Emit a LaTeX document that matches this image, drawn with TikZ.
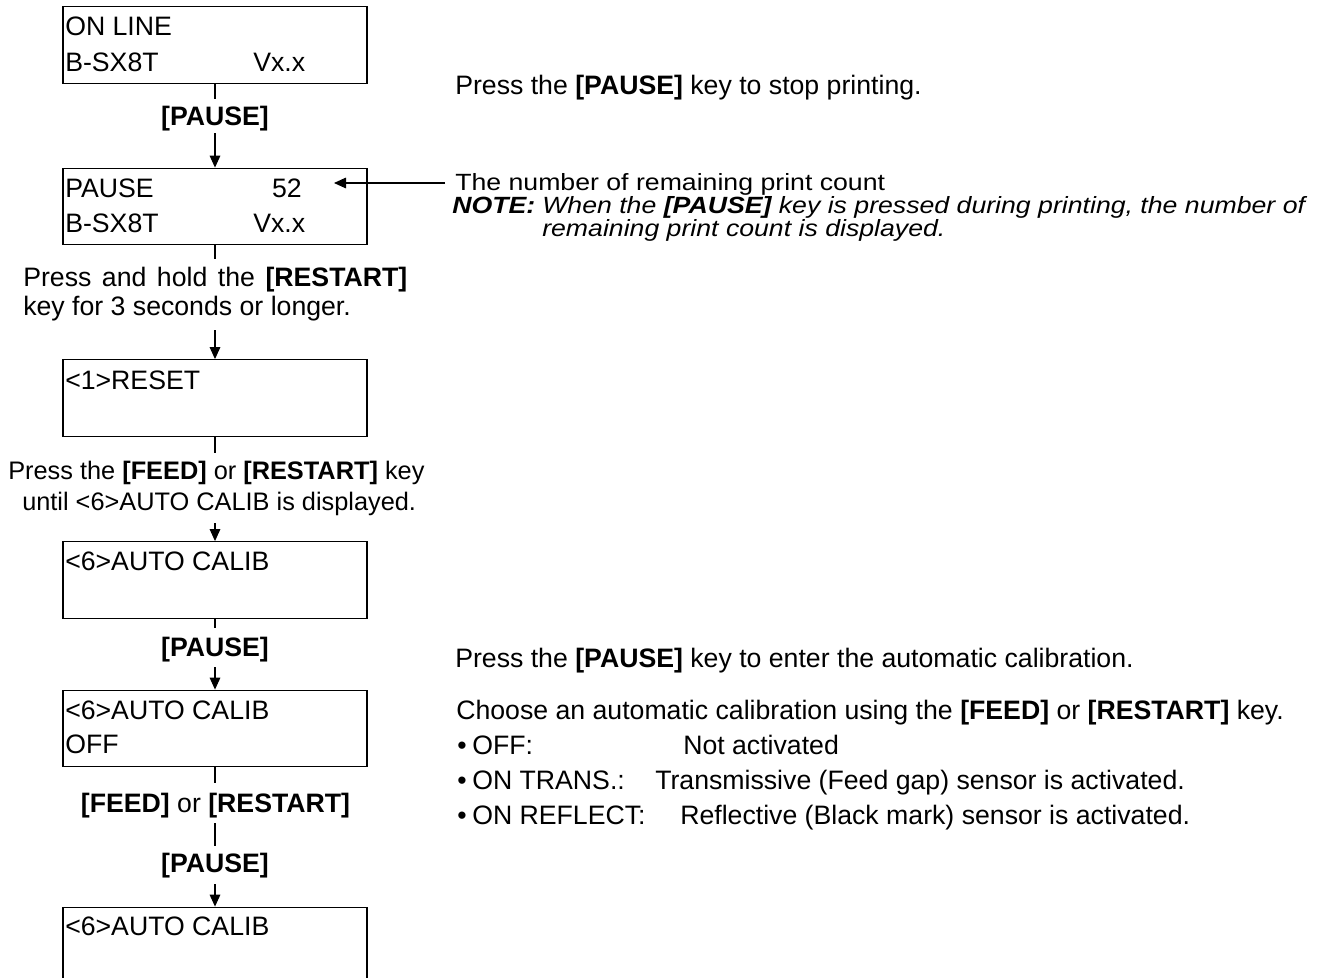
\documentclass[tikz,border=0pt]{standalone}
\usepackage{fontspec}
\setmainfont{Liberation Sans}
\usetikzlibrary{arrows.meta}
\newcommand{\squash}[1]{\scalebox{1}[0.88]{#1}}
\begin{document}
\begin{tikzpicture}[x=0.75pt,y=-0.75pt,
  box/.style={draw, line width=0.9pt, minimum width=228pt, minimum height=57.5pt, inner sep=0pt},
  txt/.style={anchor=base west, inner sep=0pt, font=\fontsize{20}{24}\selectfont},
  txtr/.style={anchor=base east, inner sep=0pt, font=\fontsize{20}{24}\selectfont},
  lbl/.style={anchor=base, inner sep=0pt, font=\fontsize{20}{24}\selectfont},
  small/.style={anchor=base west, inner sep=0pt, font=\fontsize{19}{23}\selectfont},
  conn/.style={line width=0.8pt},
  arr/.style={line width=0.8pt, -{Triangle[length=9pt,width=8pt]}}]
\clip (0,0) rectangle (1321,978);

% boxes
\node[box] (b1) at (215,45) {};
\node[box] (b2) at (215,206.5) {};
\node[box] (b3) at (215,398) {};
\node[box] (b4) at (215,580) {};
\node[box] (b5) at (215,728.5) {};
\node[box] (b6) at (215,945.5) {};

% box texts
\node[txt] (b1a) at (65,36) {ON LINE};
\node[txt] (b1b) at (65,71) {B-SX8T};
\node[txt] (b1c) at (253,71) {Vx.x};
\node[txt] (b2a) at (65,197) {PAUSE};
\node[txtr] (n52) at (302,197) {52};
\node[txt] (b2b) at (65,232) {B-SX8T};
\node[txt] (b2c) at (253,232) {Vx.x};
\node[txt] (b3a) at (65,389) {<1>RESET};
\node[txt] (b4a) at (65,570) {<6>AUTO CALIB};
\node[txt] (b5a) at (65,719) {<6>AUTO CALIB};
\node[txt] (b5b) at (65,753) {OFF};
\node[txt] (b6a) at (65,935) {<6>AUTO CALIB};

% labels between boxes
\node[lbl] (l1) at (215,125) {\textbf{[PAUSE]}};
\node[txt] (l2a) at (23,286) {\makebox[288pt][s]{Press and hold the \textbf{[RESTART]}}};
\node[txt] (l2b) at (23,315) {key for 3 seconds or longer.};
\node[small] (l3a) at (8,479) {Press the \textbf{[FEED]} or \textbf{[RESTART]} key};
\node[small] (l3b) at (22,510) {until <6>AUTO CALIB is displayed.};
\node[lbl] (l4) at (215,656) {\textbf{[PAUSE]}};
\node[lbl] (l5) at (215.5,812) {\textbf{[FEED]} or \textbf{[RESTART]}};
\node[lbl] (l6) at (215,872) {\textbf{[PAUSE]}};

% connector end points
\coordinate (c1a) at (215,99);
\coordinate (c1b) at (215,133);
\coordinate (c2a) at (215,259);
\coordinate (c2b) at (215,330);
\coordinate (c3a) at (215,453);
\coordinate (c3b) at (215,523);
\coordinate (c4a) at (215,628);
\coordinate (c4b) at (215,667);
\coordinate (c5a) at (215,783);
\coordinate (c5b) at (215,823);
\coordinate (c5c) at (215,846);
\coordinate (c5d) at (215,884);

\draw[conn] (b1) -- (c1a);
\draw[arr] (c1b) -- (b2);
\draw[conn] (b2) -- (c2a);
\draw[arr] (c2b) -- (b3);
\draw[conn] (b3) -- (c3a);
\draw[arr] (c3b) -- (b4);
\draw[conn] (b4) -- (c4a);
\draw[arr] (c4b) -- (b5);
\draw[conn] (b5) -- (c5a);
\draw[conn] (c5b) -- (c5c);
\draw[arr] (c5d) -- (b6);

% pointer to count
\coordinate (p1) at (445,183);
\coordinate (p2) at (334,183);
\draw[arr] (p1) -- (p2);

% right-hand texts
\node[txt] (r1) at (455,94) {Press the \textbf{[PAUSE]} key to stop printing.};
\node[txt] (r2) at (455,190) {\squash{The number of remaining print count}};
\node[txt] (r3) at (452,213) {\squash{\textbf{\textit{NOTE:}}}};
\node[txt] (r3b) at (542,213) {\squash{\textit{When the \textbf{[PAUSE]} key is pressed during printing, the number of}}};
\node[txt] (r3c) at (542,236) {\squash{\textit{remaining print count is displayed.}}};
\node[txt] (r4) at (455,667) {Press the \textbf{[PAUSE]} key to enter the automatic calibration.};
\node[txt] (r5) at (456,719) {Choose an automatic calibration using the \textbf{[FEED]} or \textbf{[RESTART]} key.};
\node[lbl] (u1) at (462,754) {\textbullet};
\node[txt] (u1a) at (472,754) {OFF:};
\node[txt] (u1b) at (683,754) {Not activated};
\node[lbl] (u2) at (462,789) {\textbullet};
\node[txt] (u2a) at (472,789) {ON TRANS.:};
\node[txt] (u2b) at (655,789) {Transmissive (Feed gap) sensor is activated.};
\node[lbl] (u3) at (462,824) {\textbullet};
\node[txt] (u3a) at (472,824) {ON REFLECT:};
\node[txt] (u3b) at (680,824) {Reflective (Black mark) sensor is activated.};
\end{tikzpicture}
\end{document}
